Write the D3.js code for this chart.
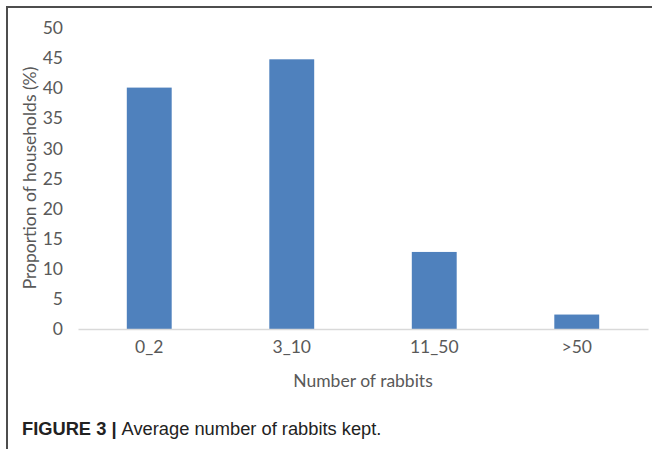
<!DOCTYPE html>
<html>
  <head>
    <meta charset="utf-8" />
    <script src="https://d3js.org/d3.v7.min.js"></script>
    <style>
      body { margin: 0; background: #fff; }
    </style>
  </head>
  <body>
    <svg width="652" height="449"></svg>
    <script>
      // Values
      const categories = ["0_2", "3_10", "11_50", ">50"];
      const values = [40.1, 44.8, 12.8, 2.4];
      const yTicks = [0, 5, 10, 15, 20, 25, 30, 35, 40, 45, 50];

      const svg = d3.select("svg");
      const textColor = "#595959";
      const font = "Lato, 'Open Sans', sans-serif";
      const fontSize = "17.5px";

      // frame round the figure (top and left edges only show)
      svg.append("line").attr("x1", 7).attr("x2", 652).attr("y1", 7).attr("y2", 7)
        .attr("stroke", "#4d4d4d").attr("stroke-width", 2);
      svg.append("line").attr("x1", 7).attr("x2", 7).attr("y1", 6).attr("y2", 449)
        .attr("stroke", "#4d4d4d").attr("stroke-width", 2);

      const x = d3.scaleBand()
        .domain(categories)
        .range([78, 648])
        .paddingInner(0.685)
        .paddingOuter(0.3425);

      const y = d3.scaleLinear().domain([0, 50]).range([329, 28]);

      // y tick labels (no axis line)
      const yAxis = svg.append("g")
        .attr("transform", "translate(78,0)")
        .call(d3.axisLeft(y).tickValues(yTicks).tickSize(0).tickPadding(15));
      yAxis.select(".domain").remove();
      yAxis.selectAll("text")
        .attr("fill", textColor)
        .style("font-family", font)
        .style("font-size", fontSize);

      // bars
      svg.selectAll(".bar")
        .data(values)
        .enter()
        .append("rect")
        .attr("class", "bar")
        .attr("x", (d, i) => x(categories[i]))
        .attr("width", x.bandwidth())
        .attr("y", (d) => y(d))
        .attr("height", (d) => y(0) - y(d))
        .attr("fill", "#4f81bd");

      // x axis
      const xAxis = svg.append("g")
        .attr("transform", "translate(0,329)")
        .call(d3.axisBottom(x).tickSize(0).tickPadding(12).tickSizeOuter(0));
      xAxis.select(".domain").attr("stroke", "#d9d9d9").attr("stroke-width", 1.5);
      xAxis.selectAll("text")
        .attr("fill", textColor)
        .style("font-family", font)
        .style("font-size", fontSize);

      // axis titles
      svg.append("text")
        .attr("x", 363)
        .attr("y", 387)
        .attr("text-anchor", "middle")
        .attr("fill", textColor)
        .style("font-family", font)
        .style("font-size", fontSize)
        .text("Number of rabbits");

      svg.append("text")
        .attr("transform", "translate(36,178) rotate(-90)")
        .attr("text-anchor", "middle")
        .attr("fill", textColor)
        .style("font-family", font)
        .style("font-size", fontSize)
        .text("Proportion of households (%)");

      // caption
      const cap = svg.append("text")
        .attr("x", 22)
        .attr("y", 435)
        .attr("fill", "#222")
        .style("font-family", "'Liberation Sans', Arial, sans-serif")
        .style("font-size", "18.3px");
      cap.append("tspan").style("font-weight", "bold").text("FIGURE 3 | ");
      cap.append("tspan").text("Average number of rabbits kept.");
    </script>
  </body>
</html>
